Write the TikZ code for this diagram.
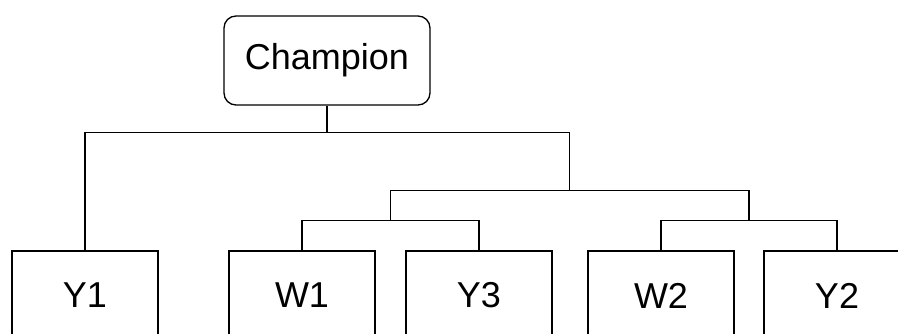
\documentclass[tikz,border=0pt]{standalone}
\usepackage{fontspec}
\setmainfont{Liberation Sans}
\usetikzlibrary{calc}
\begin{document}
\begin{tikzpicture}[x=1pt,y=-1pt,
  line width=1.3pt,
  team/.style={draw, minimum width=146pt, minimum height=89pt, inner sep=0pt,
    font=\fontsize{36}{43}\selectfont},
  winner/.style={team, minimum width=206pt, rounded corners=12pt},
  bracket/.style={draw, line join=miter}]
  \clip (0,0) rectangle (898,333);
  \fill[white] (0,0) rectangle (898,333);

  % champion at the top
  \node[winner] (champ) at (327,60.5) {Champion};

  % first-round entries
  \node[team] (Y1) at (85,295.5)  {Y1};
  \node[team] (W1) at (302,295.5) {W1};
  \node[team] (Y3) at (479,295.5) {Y3};
  \node[team] (W2) at (661,295.5) {W2};
  \node[team] (Y2) at (837,295.5) {Y2};

  % bracket junctions
  \coordinate (m1) at ($(W1.north)!0.5!(Y3.north)+(0,-30)$);
  \coordinate (m2) at ($(W2.north)!0.5!(Y2.north)+(0,-30)$);
  \coordinate (m3) at ($(m1)!0.5!(m2)+(0,-30)$);

  \draw[bracket] (W1.north) -- ++(0,-30) -| (Y3.north);
  \draw[bracket] (W2.north) -- ++(0,-30) -| (Y2.north);
  \draw[bracket] (m1) -- ++(0,-30) -| (m2);
  \draw[bracket] (Y1.north) -- ++(0,-118) coordinate (top) -| (m3);
  \draw[bracket] (champ.south) -- (champ.south |- top);
\end{tikzpicture}
\end{document}
